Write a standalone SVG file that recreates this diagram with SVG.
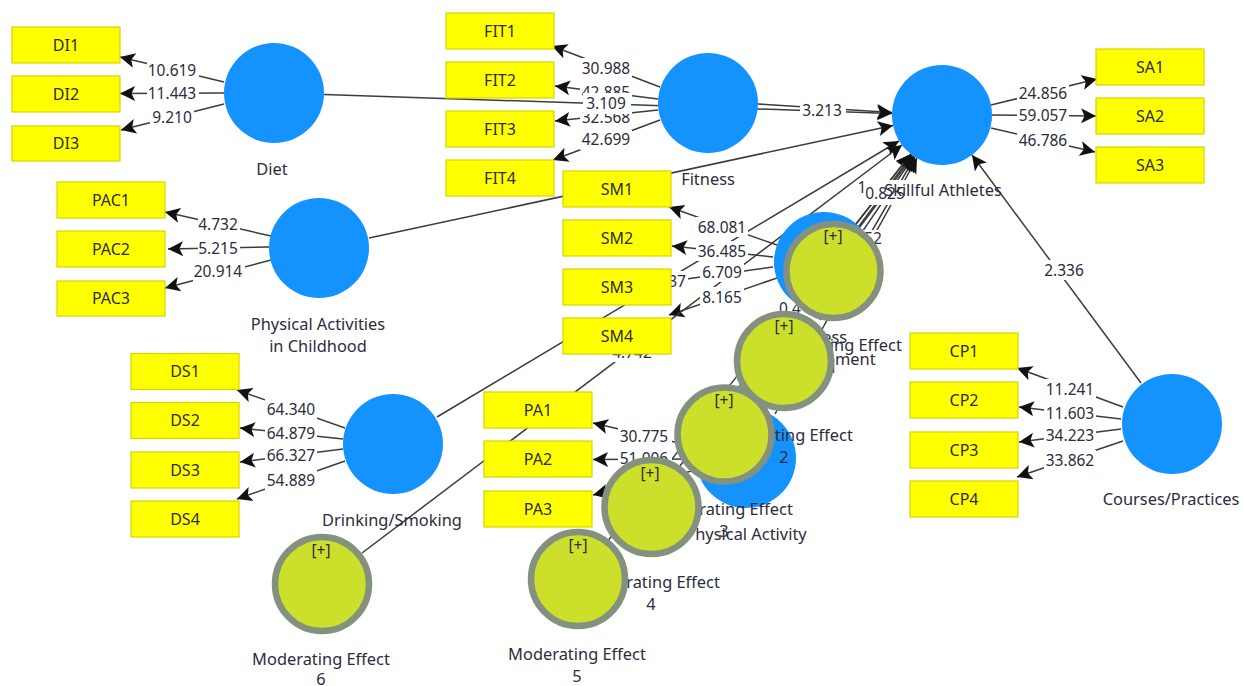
<svg xmlns="http://www.w3.org/2000/svg" width="1244" height="686" viewBox="0 0 1244 686">
<style>
text{font-family:"Noto Sans","Liberation Sans",sans-serif;fill:#2c2c3c}
.c line{stroke:#3c3c3c;stroke-width:1.5;marker-end:url(#a)}
.l rect{fill:#fff}
.l text{font-size:15.5px;text-anchor:middle}
.i rect{fill:#ffff00;stroke:#d4d400;stroke-width:1.2}
.i text{font-size:16px;text-anchor:middle}
.b{fill:#1493ff}
.g{fill:#cce02b;stroke:#84917f;stroke-width:6.5}
.n{font-size:16.4px;text-anchor:middle}
.p{font-size:15.5px;text-anchor:middle}
</style>
<defs>
<marker id="a" markerUnits="userSpaceOnUse" markerWidth="17" markerHeight="17" refX="15" refY="8" orient="auto" viewBox="0 0 17 17"><path d="M0,0.500L15,8L0,15.500L3.500,8Z" fill="#111"/></marker>
</defs>
<rect width="1244" height="686" fill="#fff"/>
<g id="connectors" class="c">
<line x1="224" y1="82" x2="120" y2="57"/><line x1="224" y1="93" x2="120" y2="93.5"/><line x1="224" y1="104" x2="121" y2="130"/>
<line x1="660" y1="87" x2="552" y2="46"/><line x1="658" y1="99" x2="555" y2="86"/><line x1="658" y1="110" x2="555" y2="121"/><line x1="660" y1="120" x2="553" y2="160"/>
<line x1="271" y1="236" x2="165" y2="212"/><line x1="269" y1="247" x2="168" y2="249"/><line x1="271" y1="260" x2="165" y2="288"/>
<line x1="345" y1="428" x2="237" y2="390"/><line x1="343" y1="439" x2="240" y2="428"/><line x1="343" y1="449" x2="240" y2="462"/><line x1="345" y1="461" x2="237" y2="499"/>
<line x1="777" y1="245" x2="669" y2="207"/><line x1="773" y1="257" x2="672" y2="246"/><line x1="773" y1="267" x2="672" y2="281"/><line x1="777" y1="278" x2="669" y2="315"/>
<line x1="696" y1="447" x2="593" y2="423"/><line x1="696" y1="459" x2="593" y2="459.5"/><line x1="696" y1="470" x2="593" y2="495"/>
<line x1="991" y1="105" x2="1097" y2="79"/><line x1="992" y1="115" x2="1096" y2="116"/><line x1="991" y1="128" x2="1095" y2="152"/>
<line x1="1123" y1="407" x2="1017" y2="368"/><line x1="1121" y1="419" x2="1019" y2="407"/><line x1="1121" y1="429" x2="1019" y2="442"/><line x1="1123" y1="441" x2="1017" y2="477"/>
<line x1="324" y1="94.5" x2="892" y2="113.4"/><line x1="758" y1="104" x2="892" y2="112.4"/><line x1="369" y1="238" x2="893" y2="125.4"/>
<line x1="437" y1="417" x2="899" y2="141"/><line x1="1141" y1="383" x2="972" y2="155"/>
<line x1="362" y1="553" x2="902" y2="145"/><line x1="607" y1="542" x2="911" y2="154"/><line x1="680" y1="466" x2="912" y2="155"/><line x1="750" y1="396" x2="914" y2="156"/><line x1="775" y1="414" x2="917" y2="158"/><line x1="820" y1="320" x2="915" y2="157"/><line x1="850" y1="240" x2="913" y2="156"/><line x1="855" y1="225" x2="911" y2="154"/>
</g>
<g id="path-labels" class="l">
<rect x="147" y="61" width="52" height="20"/><text x="172" y="76">10.619</text>
<rect x="147" y="83" width="52" height="20"/><text x="172" y="99">11.443</text>
<rect x="150" y="107" width="44" height="20"/><text x="172" y="123">9.210</text>
<rect x="580" y="58" width="52" height="20"/><text x="606" y="74">30.988</text>
<rect x="580" y="82" width="52" height="20"/><text x="606" y="98">42.885</text>
<rect x="580" y="106" width="52" height="20"/><text x="606" y="123">32.568</text>
<rect x="580" y="130" width="52" height="20"/><text x="606" y="145">42.699</text>
<rect x="583" y="93" width="48" height="21"/><text x="606" y="109">3.109</text>
<rect x="198" y="215" width="42" height="20"/><text x="218" y="230">4.732</text>
<rect x="198" y="239" width="42" height="20"/><text x="218" y="254">5.215</text>
<rect x="193" y="262" width="52" height="20"/><text x="218" y="277">20.914</text>
<rect x="265" y="399" width="52" height="20"/><text x="291" y="415">64.340</text>
<rect x="265" y="423" width="52" height="20"/><text x="291" y="439">64.879</text>
<rect x="265" y="445" width="52" height="20"/><text x="291" y="461">66.327</text>
<rect x="265" y="470" width="52" height="20"/><text x="291" y="486">54.889</text>
<rect x="696" y="217" width="52" height="20"/><text x="722" y="233">68.081</text>
<rect x="696" y="241" width="52" height="20"/><text x="722" y="257">36.485</text>
<rect x="700" y="262" width="44" height="20"/><text x="722" y="278">6.709</text>
<rect x="700" y="287" width="44" height="20"/><text x="722" y="303">8.165</text>
<rect x="652" y="271" width="36" height="20"/><text x="677" y="287">37</text>
<rect x="612" y="342" width="42" height="20"/><text x="632" y="358">4.742</text>
<rect x="618" y="426" width="54" height="20"/><text x="644" y="442">30.775</text>
<rect x="618" y="448" width="54" height="20"/><text x="644" y="464">51.006</text>
<rect x="1017" y="83" width="52" height="20"/><text x="1043" y="99">24.856</text>
<rect x="1017" y="105" width="52" height="20"/><text x="1043" y="121">59.057</text>
<rect x="1017" y="130" width="52" height="20"/><text x="1043" y="146">46.786</text>
<rect x="1044" y="379" width="52" height="20"/><text x="1070" y="395">11.241</text>
<rect x="1044" y="403" width="52" height="20"/><text x="1070" y="419">11.603</text>
<rect x="1044" y="425" width="52" height="20"/><text x="1070" y="441">34.223</text>
<rect x="1044" y="450" width="52" height="20"/><text x="1070" y="466">33.862</text>
<rect x="800" y="100" width="46" height="20"/><text x="822" y="116">3.213</text>
<rect x="1042" y="260" width="46" height="20"/><text x="1064" y="276">2.336</text>
<rect x="860" y="180" width="46" height="25"/><text x="862" y="193">1</text><text x="885" y="199">0.825</text>
<rect x="862" y="230" width="24" height="17"/><text x="873" y="244">52</text>
<rect x="775" y="301" width="40" height="20"/><text x="790" y="314">0.4</text>
</g>
<g id="indicators" class="i">
<g id="DI1"><rect x="12" y="27" width="108" height="36"/><text x="66" y="51">DI1</text></g>
<g id="DI2"><rect x="12" y="76" width="108" height="36"/><text x="66" y="100">DI2</text></g>
<g id="DI3"><rect x="12" y="126" width="108" height="35"/><text x="66" y="149">DI3</text></g>
<g id="FIT1"><rect x="446" y="13" width="108" height="36"/><text x="500" y="37">FIT1</text></g>
<g id="FIT2"><rect x="446" y="62" width="108" height="36"/><text x="500" y="86">FIT2</text></g>
<g id="FIT3"><rect x="446" y="111" width="108" height="36"/><text x="500" y="135">FIT3</text></g>
<g id="FIT4"><rect x="446" y="160" width="108" height="36"/><text x="500" y="184">FIT4</text></g>
<g id="PAC1"><rect x="57" y="182" width="108" height="36"/><text x="111" y="206">PAC1</text></g>
<g id="PAC2"><rect x="57" y="231" width="108" height="36"/><text x="111" y="255">PAC2</text></g>
<g id="PAC3"><rect x="57" y="281" width="108" height="35"/><text x="111" y="304">PAC3</text></g>
<g id="DS1"><rect x="131" y="353.500" width="108" height="36"/><text x="185" y="377">DS1</text></g>
<g id="DS2"><rect x="131" y="402.500" width="108" height="36"/><text x="185" y="426">DS2</text></g>
<g id="DS3"><rect x="131" y="452" width="108" height="36"/><text x="185" y="476">DS3</text></g>
<g id="DS4"><rect x="131" y="501" width="108" height="36"/><text x="185" y="525">DS4</text></g>
<g id="SM1"><rect x="563" y="171" width="108" height="36"/><text x="617" y="195">SM1</text></g>
<g id="SM2"><rect x="563" y="220" width="108" height="36"/><text x="617" y="244">SM2</text></g>
<g id="SM3"><rect x="563" y="269" width="108" height="36"/><text x="617" y="293">SM3</text></g>
<g id="SM4"><rect x="563" y="318" width="108" height="36"/><text x="617" y="342">SM4</text></g>
<g id="PA1"><rect x="484" y="392" width="108" height="36"/><text x="538" y="416">PA1</text></g>
<g id="PA2"><rect x="484" y="441" width="108" height="36"/><text x="538" y="465">PA2</text></g>
<g id="PA3"><rect x="484" y="491" width="108" height="36"/><text x="538" y="515">PA3</text></g>
<g id="SA1"><rect x="1096" y="49" width="108" height="36"/><text x="1150" y="73">SA1</text></g>
<g id="SA2"><rect x="1096" y="98" width="108" height="36"/><text x="1150" y="122">SA2</text></g>
<g id="SA3"><rect x="1096" y="147" width="108" height="36"/><text x="1150" y="171">SA3</text></g>
<g id="CP1"><rect x="910" y="333" width="108" height="36"/><text x="964" y="357">CP1</text></g>
<g id="CP2"><rect x="910" y="382" width="108" height="36"/><text x="964" y="406">CP2</text></g>
<g id="CP3"><rect x="910" y="432" width="108" height="36"/><text x="964" y="456">CP3</text></g>
<g id="CP4"><rect x="910" y="481" width="108" height="36"/><text x="964" y="505">CP4</text></g>
</g>
<g id="diet"><circle class="b" cx="274" cy="93" r="50"/><text class="n" x="272" y="175">Diet</text></g>
<g id="fitness"><circle class="b" cx="708" cy="103" r="50"/><text class="n" x="708" y="185">Fitness</text></g>
<g id="skillful-athletes"><circle class="b" cx="942" cy="115" r="50"/><text class="n" x="943" y="196">Skillful Athletes</text></g>
<g id="physical-activities"><circle class="b" cx="319" cy="248" r="50"/><text class="n" x="318" y="330">Physical Activities</text><text class="n" x="318" y="352">in Childhood</text></g>
<g id="drinking-smoking"><circle class="b" cx="393" cy="444" r="50"/><text class="n" x="392" y="526">Drinking/Smoking</text></g>
<g id="courses-practices"><circle class="b" cx="1172" cy="424" r="50"/><text class="n" x="1171" y="505">Courses/Practices</text></g>
<g id="physical-activity"><circle class="b" cx="746" cy="458" r="50"/><text class="n" x="746" y="540">Physical Activity</text></g>
<g id="stress-management"><circle class="b" cx="824" cy="262" r="50"/><text class="n" x="824" y="343">Stress</text><text class="n" x="824" y="365">Management</text></g>
<g id="moderating-1"><circle class="g" cx="833.500" cy="271" r="47"/><text class="p" x="833" y="242">[+]</text><text class="n" x="833" y="351">Moderating Effect</text><text class="n" x="833" y="373">1</text></g>
<g id="moderating-2"><circle class="g" cx="784" cy="361" r="47"/><text class="p" x="784" y="332">[+]</text><text class="n" x="784" y="441">Moderating Effect</text><text class="n" x="784" y="463">2</text></g>
<g id="moderating-3"><circle class="g" cx="724.500" cy="434.500" r="47"/><text class="p" x="724" y="406">[+]</text><text class="n" x="724" y="515">Moderating Effect</text><text class="n" x="724" y="537">3</text></g>
<g id="moderating-4"><circle class="g" cx="651.500" cy="507" r="47"/><text class="p" x="650" y="479">[+]</text><text class="n" x="651" y="588">Moderating Effect</text><text class="n" x="651" y="610">4</text></g>
<g id="moderating-5"><circle class="g" cx="578" cy="579" r="47"/><text class="p" x="578" y="551">[+]</text><text class="n" x="577" y="660">Moderating Effect</text><text class="n" x="577" y="682">5</text></g>
<g id="moderating-6"><circle class="g" cx="322" cy="584" r="47"/><text class="p" x="321" y="556">[+]</text><text class="n" x="321" y="665">Moderating Effect</text><text class="n" x="321" y="685">6</text></g>
</svg>
